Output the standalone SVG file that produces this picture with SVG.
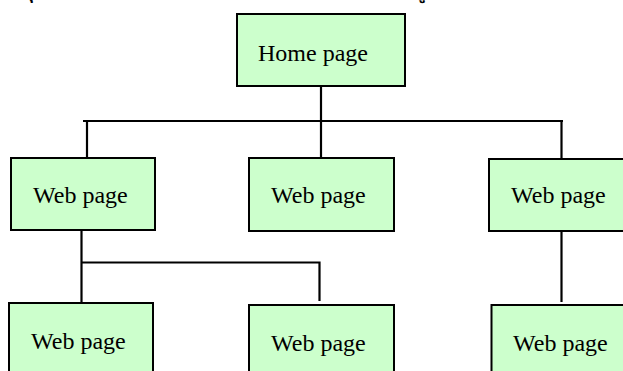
<svg xmlns="http://www.w3.org/2000/svg" width="623" height="371" viewBox="0 0 623 371">
<style>
.box{fill:#CCFFCC;stroke:#000;stroke-width:2}
.lbl{font-family:"Liberation Serif","Times New Roman",serif;font-size:24px;fill:#000}
.con{fill:none;stroke:#000;stroke-width:2.2}
.thai{font-family:"Noto Sans Thai","Noto Sans","DejaVu Sans",sans-serif;font-size:16px;fill:#000;font-weight:bold}
</style>
<rect width="623" height="371" fill="#fff"/>
<text class="thai" x="34" y="-1">ุ&#160;</text>
<text class="thai" x="426" y="-1">ู&#160;</text>
<g id="connectors">
<path class="con" d="M321,86 V121"/>
<path class="con" d="M83,121 H563"/>
<path class="con" d="M87,121 V158"/>
<path class="con" d="M321,121 V158"/>
<path class="con" d="M561.5,121 V159"/>
<path class="con" d="M81.5,230 V303"/>
<path class="con" d="M81.5,262.5 H319.5 V301"/>
<path class="con" d="M561.5,231 V302"/>
</g>
<g id="home"><rect class="box" x="237" y="14" width="168" height="72"/><text class="lbl" x="258" y="61" font-size="25">Home page</text></g>
<g id="web1"><rect class="box" x="11" y="158" width="144" height="72"/><text class="lbl" x="33" y="203">Web page</text></g>
<g id="web2"><rect class="box" x="249" y="158" width="145" height="73"/><text class="lbl" x="271" y="203">Web page</text></g>
<g id="web3"><rect class="box" x="489" y="159" width="160" height="72"/><text class="lbl" x="511" y="203">Web page</text></g>
<g id="web4"><rect class="box" x="9" y="303" width="144" height="80"/><text class="lbl" x="31" y="348.5">Web page</text></g>
<g id="web5"><rect class="box" x="249" y="305" width="145" height="80"/><text class="lbl" x="271" y="350.5">Web page</text></g>
<g id="web6"><rect class="box" x="491.5" y="305" width="160" height="80"/><text class="lbl" x="513" y="350.5">Web page</text></g>
</svg>
